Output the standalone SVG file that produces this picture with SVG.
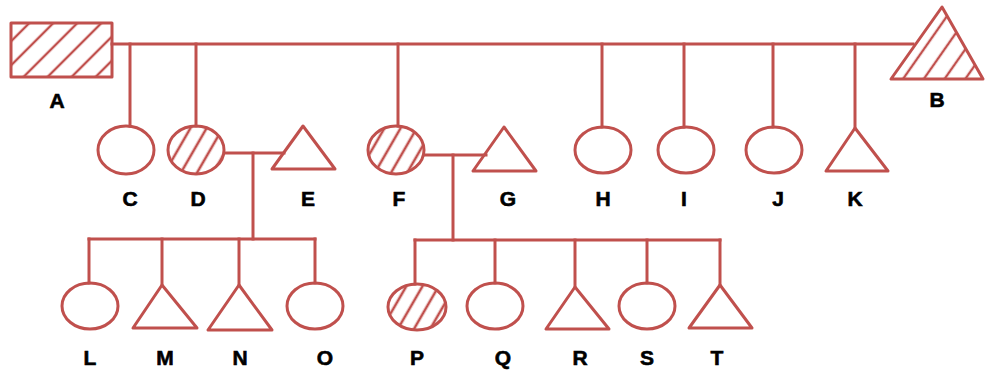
<svg xmlns="http://www.w3.org/2000/svg" width="985" height="370" viewBox="0 0 985 370">
<style>
.s{fill:none;stroke:#c0504d;stroke-width:3;stroke-linejoin:round}
.h{stroke:#c0504d;stroke-width:3;stroke-linejoin:round}
.c line{stroke:#c0504d;stroke-width:3;stroke-linecap:square}
text{font-family:"Liberation Sans",Arial,sans-serif;font-weight:bold;font-size:21px;fill:#000;stroke:#000;stroke-width:0.6;text-anchor:middle}
</style>
<defs>
<pattern id="hr" width="17" height="17" patternUnits="userSpaceOnUse" patternTransform="rotate(45)"><line x1="3" y1="-2" x2="3" y2="19" stroke="#c0504d" stroke-width="2.4"/></pattern>
<pattern id="hc" width="14" height="14" patternUnits="userSpaceOnUse" patternTransform="rotate(30)"><line x1="5" y1="-2" x2="5" y2="16" stroke="#c0504d" stroke-width="2.6"/></pattern>
<pattern id="ht" width="17" height="17" patternUnits="userSpaceOnUse" patternTransform="rotate(35)"><line x1="3" y1="-2" x2="3" y2="19" stroke="#c0504d" stroke-width="2.4"/></pattern>
</defs>
<rect width="985" height="370" fill="#fff"/>
<g class="c" id="connectors">
<line x1="112" y1="44" x2="913" y2="44"/>
<line x1="130" y1="44" x2="130" y2="126"/>
<line x1="196" y1="44" x2="196" y2="126"/>
<line x1="398" y1="44" x2="398" y2="126"/>
<line x1="602" y1="44" x2="602" y2="127"/>
<line x1="684" y1="44" x2="684" y2="127"/>
<line x1="773" y1="44" x2="773" y2="127"/>
<line x1="855" y1="44" x2="855" y2="128"/>
<line x1="225" y1="153" x2="284" y2="153"/>
<line x1="253" y1="153" x2="253" y2="239"/>
<line x1="89" y1="239" x2="315" y2="239"/>
<line x1="89" y1="239" x2="89" y2="283"/>
<line x1="162" y1="239" x2="162" y2="285"/>
<line x1="239" y1="239" x2="239" y2="285"/>
<line x1="315" y1="239" x2="315" y2="283"/>
<line x1="424" y1="155" x2="486" y2="155"/>
<line x1="453" y1="155" x2="453" y2="240"/>
<line x1="415" y1="240" x2="720" y2="240"/>
<line x1="415" y1="240" x2="415" y2="284"/>
<line x1="495" y1="240" x2="495" y2="283"/>
<line x1="575" y1="240" x2="575" y2="287"/>
<line x1="647" y1="240" x2="647" y2="283"/>
<line x1="720" y1="240" x2="720" y2="285"/>
</g>
<g id="A"><rect x="11" y="23" width="101" height="54" fill="url(#hr)" class="h"/><text x="57" y="108">A</text></g>
<g id="B"><polygon points="942,7 891,79 983,79" fill="url(#ht)" class="h"/><text x="937" y="107">B</text></g>
<g id="C"><ellipse cx="126" cy="150" rx="28" ry="24" class="s"/><text x="130" y="206">C</text></g>
<g id="D"><ellipse cx="196" cy="150" rx="28" ry="24" fill="url(#hc)" class="h"/><text x="198" y="206">D</text></g>
<g id="E"><polygon points="303,126 272,169 335,169" class="s"/><text x="308" y="206">E</text></g>
<g id="F"><ellipse cx="396" cy="150" rx="28" ry="24" fill="url(#hc)" class="h"/><text x="399" y="206">F</text></g>
<g id="G"><polygon points="504,127 473,171 536,171" class="s"/><text x="508" y="206">G</text></g>
<g id="H"><ellipse cx="603" cy="150" rx="28" ry="23" class="s"/><text x="603" y="206">H</text></g>
<g id="I"><ellipse cx="686" cy="150" rx="28" ry="23" class="s"/><text x="684" y="206">I</text></g>
<g id="J"><ellipse cx="774" cy="150" rx="28" ry="23" class="s"/><text x="778" y="206">J</text></g>
<g id="K"><polygon points="855,128 826,171 888,171" class="s"/><text x="855" y="206">K</text></g>
<g id="L"><ellipse cx="90" cy="306" rx="28" ry="23" class="s"/><text x="90" y="365">L</text></g>
<g id="M"><polygon points="162,285 133,328 197,328" class="s"/><text x="165" y="365">M</text></g>
<g id="N"><polygon points="239,285 208,330 272,330" class="s"/><text x="240" y="365">N</text></g>
<g id="O"><ellipse cx="315" cy="306" rx="28" ry="23" class="s"/><text x="325" y="365">O</text></g>
<g id="P"><ellipse cx="417" cy="307" rx="29" ry="23" fill="url(#hc)" class="h"/><text x="417" y="365">P</text></g>
<g id="Q"><ellipse cx="495" cy="306" rx="28" ry="23" class="s"/><text x="503" y="365">Q</text></g>
<g id="R"><polygon points="575,287 546,329 609,329" class="s"/><text x="580" y="365">R</text></g>
<g id="S"><ellipse cx="647" cy="306" rx="28" ry="23" class="s"/><text x="647" y="365">S</text></g>
<g id="T"><polygon points="720,285 689,328 752,328" class="s"/><text x="717" y="365">T</text></g>
</svg>
